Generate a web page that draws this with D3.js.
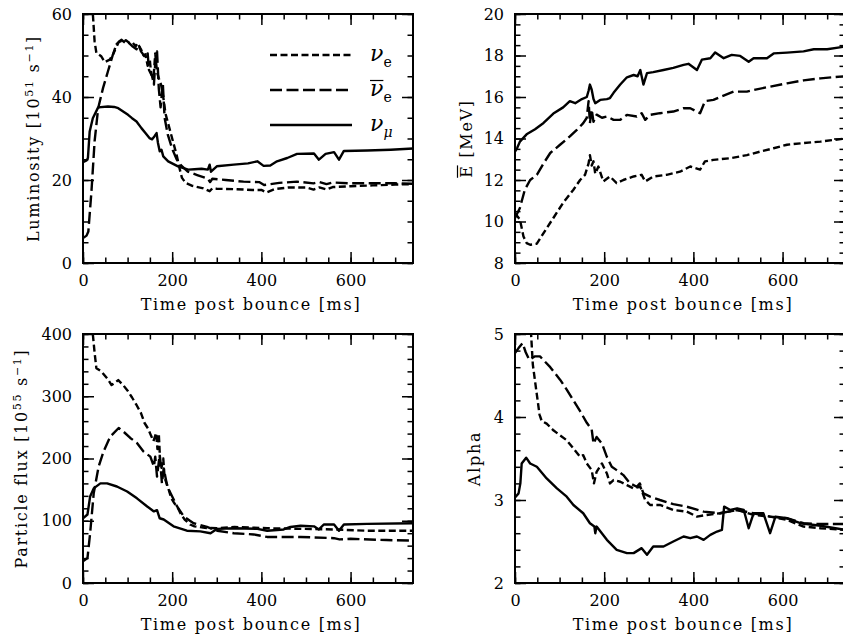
<!DOCTYPE html>
<html>
<head>
<meta charset="utf-8">
<script src="https://d3js.org/d3.v7.min.js"></script>
<style>
  body { margin: 0; background: #fff; }
  svg text { font-family: "DejaVu Serif", serif; fill: #000; }
  .axis text { font-size: 16px; }
  .axis line { stroke: #000; stroke-width: 1.5; }
  .axis path { display: none; }
  .label { font-size: 16px; letter-spacing: 1.7px; }
</style>
</head>
<body>
<div id="chart"></div>
<script>

// time ticks shared by all four panels [ms]
var timeTicks = [0, 200, 400, 600];

// luminosity [10^51 s^-1]
var lumNue = [[12,75],[18,62],[22,60.2],[26,53.4],[30,50.6],[41,49.8],[49,48.4],[60,49],[67,50.2],[75,52.7],[82,53.5],[90,53.2],[96,53.7],[104,53.0],[110,53.3],[118,52.2],[122,53.0],[130,51.5],[136,50.0],[140,50.3],[145,47.5],[150,48.8],[153,45.5],[158,44.5],[162,50.5],[166,46],[170,44.5],[175,43.0],[180,40],[185,36],[190,34],[200,30],[210,26],[216,23],[222,20.5],[230,19.3],[245,18.6],[270,18],[284,17.3],[290,18.0],[300,17.9],[340,17.8],[380,17.6],[400,17.6],[412,17.0],[430,17.8],[460,18.2],[500,18.2],[517,17.7],[530,18.2],[546,17.7],[560,18.3],[600,18.5],[650,18.7],[700,18.9],[740,19.0]];
var lumNuebar = [[0,6.0],[8,6.6],[12,7.6],[19,17.3],[26,29.3],[34,37.3],[45,42.2],[56,46.2],[67,50.2],[79,53.0],[86,53.8],[95,53.0],[100,53.3],[110,52.3],[120,51.5],[125,52.5],[130,51.0],[140,49.5],[145,50.5],[148,46.5],[155,45],[159,43],[162,48],[166,51],[170,42],[174,37.5],[179,43.3],[183,35],[190,31],[200,27.5],[210,25],[220,23.5],[235,22],[256,21.2],[280,20.3],[285,19.5],[290,20.3],[320,20],[360,19.6],[395,19.5],[406,18.8],[420,19.0],[440,19.3],[480,19.6],[517,19.2],[530,19.5],[546,19.0],[560,19.4],[600,19.2],[650,19.2],[700,19.2],[740,19.1]];
var lumNumu = [[0,24.3],[8,24.7],[11,25.3],[15,31.7],[22,34.9],[34,37.5],[56,37.7],[70,37.6],[79,37.3],[90,36.5],[101,35.7],[110,34.9],[120,34.1],[131,32.5],[140,31.3],[149,30.1],[155,29.8],[160,30.5],[165,31.3],[168,29],[172,26.9],[176,27.3],[180,25.7],[191,24.5],[213,23.3],[236,22.5],[250,22.6],[266,22.7],[280,22.5],[284,23.7],[287,22.0],[300,23.3],[338,23.7],[370,24.0],[391,24.5],[405,23.4],[420,23.5],[435,24.5],[458,25.3],[480,26.3],[518,26.4],[529,24.9],[544,26.3],[563,26.7],[574,24.9],[585,27.0],[637,27.1],[690,27.3],[742,27.6]];

// mean energy [MeV]
var eNue = [[0,10.4],[11,10.1],[19,9.28],[26,8.96],[34,8.88],[49,8.93],[64,9.44],[86,10.17],[108,10.9],[131,11.53],[146,12.0],[157,12.25],[165,12.8],[168,13.2],[172,12.7],[176,12.9],[180,12.3],[187,12.65],[198,11.93],[213,12.17],[228,11.85],[243,12.0],[266,12.17],[284,12.25],[292,11.93],[310,12.17],[340,12.25],[370,12.4],[393,12.65],[415,12.5],[426,12.9],[445,12.97],[483,13.05],[520,13.2],[550,13.37],[580,13.53],[610,13.7],[647,13.78],[685,13.85],[740,14.0]];
var eNuebar = [[0,10.17],[11,10.65],[22,11.53],[34,12.0],[49,12.25],[64,12.8],[79,13.3],[101,13.7],[123,14.1],[138,14.4],[153,14.74],[161,15.0],[165,15.8],[168,14.74],[172,15.4],[176,14.8],[183,15.15],[195,15.0],[206,15.06],[221,14.9],[236,14.9],[251,15.14],[273,15.06],[284,15.22],[292,14.9],[303,15.14],[325,15.22],[355,15.3],[378,15.46],[393,15.46],[415,15.22],[426,15.8],[445,15.86],[460,16.0],[490,16.26],[520,16.26],[542,16.37],[572,16.5],[610,16.66],[647,16.8],[685,16.9],[740,17.0]];
var eNumu = [[0,13.37],[5,13.55],[11,13.85],[26,14.2],[45,14.45],[64,14.75],[86,15.2],[108,15.5],[123,15.8],[135,15.7],[150,15.9],[161,16.0],[165,16.3],[168,16.6],[172,16.35],[176,15.9],[180,15.7],[191,15.86],[206,15.9],[213,15.95],[221,16.2],[236,16.6],[251,16.95],[266,17.06],[275,17.0],[281,17.3],[288,16.6],[296,17.15],[310,17.2],[333,17.3],[355,17.4],[378,17.55],[389,17.6],[408,17.3],[419,17.8],[438,17.87],[449,18.15],[468,17.87],[486,18.03],[505,17.98],[524,17.7],[535,17.87],[565,17.87],[580,18.1],[610,18.14],[647,18.2],[670,18.3],[700,18.3],[740,18.43]];

// particle flux [10^55 s^-1]
var fluxNue = [[16,450],[22,400],[26,370],[30,345],[41,340],[55,328],[64,318],[72,322],[79,326],[90,318],[101,308],[110,298],[120,286],[130,273],[138,257],[146,248],[153,236],[158,228],[164,241],[167,215],[170,240],[173,195],[176,185],[180,200],[183,169],[190,155],[198,136],[205,128],[213,120],[220,110],[228,102],[240,94],[250,91],[273,88.5],[300,88],[340,90],[413,88],[488,87],[563,86],[637,84],[742,84]];
var fluxNuebar = [[0,35],[10,40],[16,80],[24,144],[35,187],[46,211],[61,235],[80,249],[91,243],[106,233],[121,225],[136,211],[151,203],[159,187],[162,203],[166,171],[172,206],[177,160],[181,184],[189,155],[200,139],[211,123],[226,107],[248,96],[278,90],[301,84],[338,80],[383,78],[413,74],[488,74],[563,72],[575,70],[600,71],[680,69],[742,68]];
var fluxNumu = [[0,104],[10,110],[16,139],[24,152],[39,160],[54,160],[76,155],[99,147],[121,136],[144,123],[159,115],[166,117],[172,104],[181,102],[203,91],[233,84],[263,83],[286,80],[301,87],[338,88],[391,87],[413,84],[450,86],[465,90],[488,92],[518,91],[529,86],[540,94],[563,94],[574,84],[585,94],[637,95],[742,96]];

// spectral pinching alpha
var aNue = [[33,5.3],[35,5.1],[40,4.63],[49,4.27],[55,4.03],[60,3.95],[71,3.92],[86,3.84],[101,3.78],[116,3.72],[131,3.62],[146,3.52],[153,3.54],[161,3.44],[172,3.36],[177,3.2],[183,3.34],[195,3.44],[206,3.32],[213,3.2],[221,3.24],[236,3.22],[251,3.18],[266,3.14],[281,3.16],[292,3.0],[303,2.94],[325,2.94],[355,2.88],[385,2.86],[408,2.8],[430,2.82],[460,2.84],[498,2.88],[535,2.82],[572,2.8],[610,2.76],[647,2.68],[685,2.66],[740,2.64]];
var aNuebar = [[0,4.77],[8,4.83],[17,4.89],[24,4.78],[32,4.69],[44,4.73],[56,4.73],[79,4.6],[101,4.45],[116,4.33],[131,4.2],[146,4.07],[161,3.93],[172,3.85],[176,3.68],[183,3.76],[195,3.68],[206,3.52],[217,3.4],[228,3.36],[243,3.3],[258,3.2],[273,3.16],[280,3.2],[288,3.08],[303,3.04],[325,3.0],[355,2.95],[385,2.92],[423,2.86],[460,2.84],[498,2.88],[535,2.84],[572,2.8],[610,2.78],[647,2.72],[685,2.71],[740,2.71]];
var aNumu = [[0,3.03],[8,3.08],[12,3.2],[15,3.44],[25,3.51],[34,3.44],[49,3.4],[71,3.26],[94,3.14],[116,3.04],[131,2.94],[153,2.84],[168,2.72],[178,2.68],[180,2.6],[183,2.68],[206,2.52],[228,2.4],[251,2.36],[266,2.36],[284,2.42],[296,2.34],[310,2.44],[333,2.44],[355,2.5],[378,2.56],[393,2.54],[408,2.56],[423,2.52],[438,2.58],[453,2.62],[464,2.64],[469,2.92],[483,2.88],[498,2.9],[513,2.88],[524,2.66],[535,2.84],[557,2.84],[572,2.6],[584,2.8],[610,2.78],[640,2.72],[685,2.69],[740,2.64]];

var dashes = { nue: "7,3.5", nuebar: "12,4.5", numu: null };


/*
 * Panel - one framed plot with inward ticks on all four sides
 */

Panel = function(_svg, _opts){
  this.svg = _svg;
  this.opts = _opts;
  this.initVis();
}

Panel.prototype.initVis = function(){
  var vis = this, o = vis.opts;

  vis.width = 330;
  vis.height = 249;

  vis.g = vis.svg.append("g")
      .attr("transform", "translate(" + o.left + "," + o.top + ")");

  vis.x = d3.scaleLinear().domain([0, 740]).range([0, vis.width]);
  vis.y = d3.scaleLinear().domain(o.yDomain).range([vis.height, 0]);

  var xMinor = d3.range(0, 741, 50),
      yMinor = d3.range(o.yDomain[0], o.yDomain[1] + 1e-9, o.yMinor);

  // major ticks with labels
  vis.g.append("g").attr("class", "axis")
      .attr("transform", "translate(0," + vis.height + ")")
      .call(d3.axisBottom(vis.x).tickValues(timeTicks).tickSize(-11).tickPadding(12).tickFormat(d3.format("d")));
  vis.g.append("g").attr("class", "axis")
      .call(d3.axisLeft(vis.y).tickValues(o.yTicks).tickSize(-11).tickPadding(11).tickFormat(d3.format("d")));
  vis.g.append("g").attr("class", "axis")
      .call(d3.axisTop(vis.x).tickValues(timeTicks).tickSize(-11).tickFormat(""));
  vis.g.append("g").attr("class", "axis")
      .attr("transform", "translate(" + vis.width + ",0)")
      .call(d3.axisRight(vis.y).tickValues(o.yTicks).tickSize(-11).tickFormat(""));

  // minor ticks
  vis.g.append("g").attr("class", "axis")
      .attr("transform", "translate(0," + vis.height + ")")
      .call(d3.axisBottom(vis.x).tickValues(xMinor).tickSize(-5.5).tickFormat(""));
  vis.g.append("g").attr("class", "axis")
      .call(d3.axisTop(vis.x).tickValues(xMinor).tickSize(-5.5).tickFormat(""));
  vis.g.append("g").attr("class", "axis")
      .call(d3.axisLeft(vis.y).tickValues(yMinor).tickSize(-5.5).tickFormat(""));
  vis.g.append("g").attr("class", "axis")
      .attr("transform", "translate(" + vis.width + ",0)")
      .call(d3.axisRight(vis.y).tickValues(yMinor).tickSize(-5.5).tickFormat(""));

  vis.g.append("clipPath").attr("id", "clip-" + o.name)
    .append("rect").attr("width", vis.width).attr("height", vis.height);

  vis.g.append("rect")
      .attr("width", vis.width).attr("height", vis.height)
      .attr("fill", "none").attr("stroke", "#000").attr("stroke-width", 2);

  // x label
  vis.g.append("text").attr("class", "label")
      .attr("x", vis.width / 2 + 3).attr("y", vis.height + 47)
      .attr("text-anchor", "middle")
      .text("Time post bounce [ms]");

  // y label
  var yl = vis.g.append("g")
      .attr("transform", "translate(" + o.yLabelX + "," + vis.height / 2 + ") rotate(-90)");
  var t = yl.append("text").attr("class", "label").attr("text-anchor", "middle");
  o.yLabel.forEach(function(p){
    t.append("tspan")
        .attr("dy", p.sup ? -6 : (p.after ? 6 : null))
        .style("font-size", p.sup ? "11px" : null)
        .text(p.s);
  });
  if (o.overlineFirst) {
    var node = t.node(),
        sx = node.getStartPositionOfChar(0).x,
        w = node.getSubStringLength(0, 1);
    yl.append("line")
        .attr("x1", sx).attr("x2", sx + w - 1)
        .attr("y1", -14.5).attr("y2", -14.5)
        .attr("stroke", "#000").attr("stroke-width", 1.2);
  }

  vis.updateVis();
}

Panel.prototype.updateVis = function(){
  var vis = this;

  var line = d3.line()
      .x(function(d) { return vis.x(d[0]); })
      .y(function(d) { return vis.y(d[1]); });

  var plot = vis.g.append("g").attr("clip-path", "url(#clip-" + vis.opts.name + ")");

  vis.opts.series.forEach(function(s){
    plot.append("path")
        .datum(s.data)
        .attr("fill", "none")
        .attr("stroke", "#000")
        .attr("stroke-width", 2.4)
        .attr("stroke-linejoin", "round")
        .attr("stroke-dasharray", dashes[s.key])
        .attr("d", line);
  });
}


var svg = d3.select("#chart").append("svg")
    .attr("width", 843).attr("height", 635);

var lumPanel = new Panel(svg, {
  name: "lum", left: 83, top: 14, yDomain: [0, 60], yTicks: [0, 20, 40, 60], yMinor: 5, yLabelX: -44,
  yLabel: [{s: "Luminosity [10"}, {s: "51", sup: true}, {s: " s", after: true}, {s: "−1", sup: true}, {s: "]", after: true}],
  series: [{key: "numu", data: lumNumu}, {key: "nuebar", data: lumNuebar}, {key: "nue", data: lumNue}]
});

new Panel(svg, {
  name: "e", left: 515, top: 14, yDomain: [8, 20], yTicks: [8, 10, 12, 14, 16, 18, 20], yMinor: 0.5, yLabelX: -43,
  yLabel: [{s: "E [MeV]"}], overlineFirst: true,
  series: [{key: "numu", data: eNumu}, {key: "nuebar", data: eNuebar}, {key: "nue", data: eNue}]
});

new Panel(svg, {
  name: "flux", left: 83, top: 334, yDomain: [0, 400], yTicks: [0, 100, 200, 300, 400], yMinor: 20, yLabelX: -56,
  yLabel: [{s: "Particle flux [10"}, {s: "55", sup: true}, {s: " s", after: true}, {s: "−1", sup: true}, {s: "]", after: true}],
  series: [{key: "numu", data: fluxNumu}, {key: "nuebar", data: fluxNuebar}, {key: "nue", data: fluxNue}]
});

new Panel(svg, {
  name: "alpha", left: 515, top: 334, yDomain: [2, 5], yTicks: [2, 3, 4, 5], yMinor: 0.2, yLabelX: -35,
  yLabel: [{s: "Alpha"}],
  series: [{key: "numu", data: aNumu}, {key: "nuebar", data: aNuebar}, {key: "nue", data: aNue}]
});

// legend in the luminosity panel
var legendKeys = [
  {key: "nue", sub: "e", bar: false},
  {key: "nuebar", sub: "e", bar: true},
  {key: "numu", sub: "μ", bar: false}
];

var legend = lumPanel.g.append("g").attr("transform", "translate(187,41)");
legendKeys.forEach(function(k, i){
  var row = legend.append("g").attr("transform", "translate(0," + (i * 35) + ")");
  row.append("line")
      .attr("x1", 0).attr("x2", 82)
      .attr("stroke", "#000").attr("stroke-width", 2.4)
      .attr("stroke-dasharray", dashes[k.key]);
  var t = row.append("text").attr("x", 100).attr("y", 6);
  t.append("tspan").style("font-size", "22px").style("font-style", "italic").text("ν");
  t.append("tspan").attr("dy", 6).style("font-size", "14px")
      .style("font-style", k.sub === "μ" ? "italic" : null).text(k.sub);
  if (k.bar) {
    var node = t.node();
    row.append("line")
        .attr("x1", 100).attr("x2", 100 + node.getSubStringLength(0, 1))
        .attr("y1", -9.5).attr("y2", -9.5)
        .attr("stroke", "#000").attr("stroke-width", 1.2);
  }
});

</script>
</body>
</html>
